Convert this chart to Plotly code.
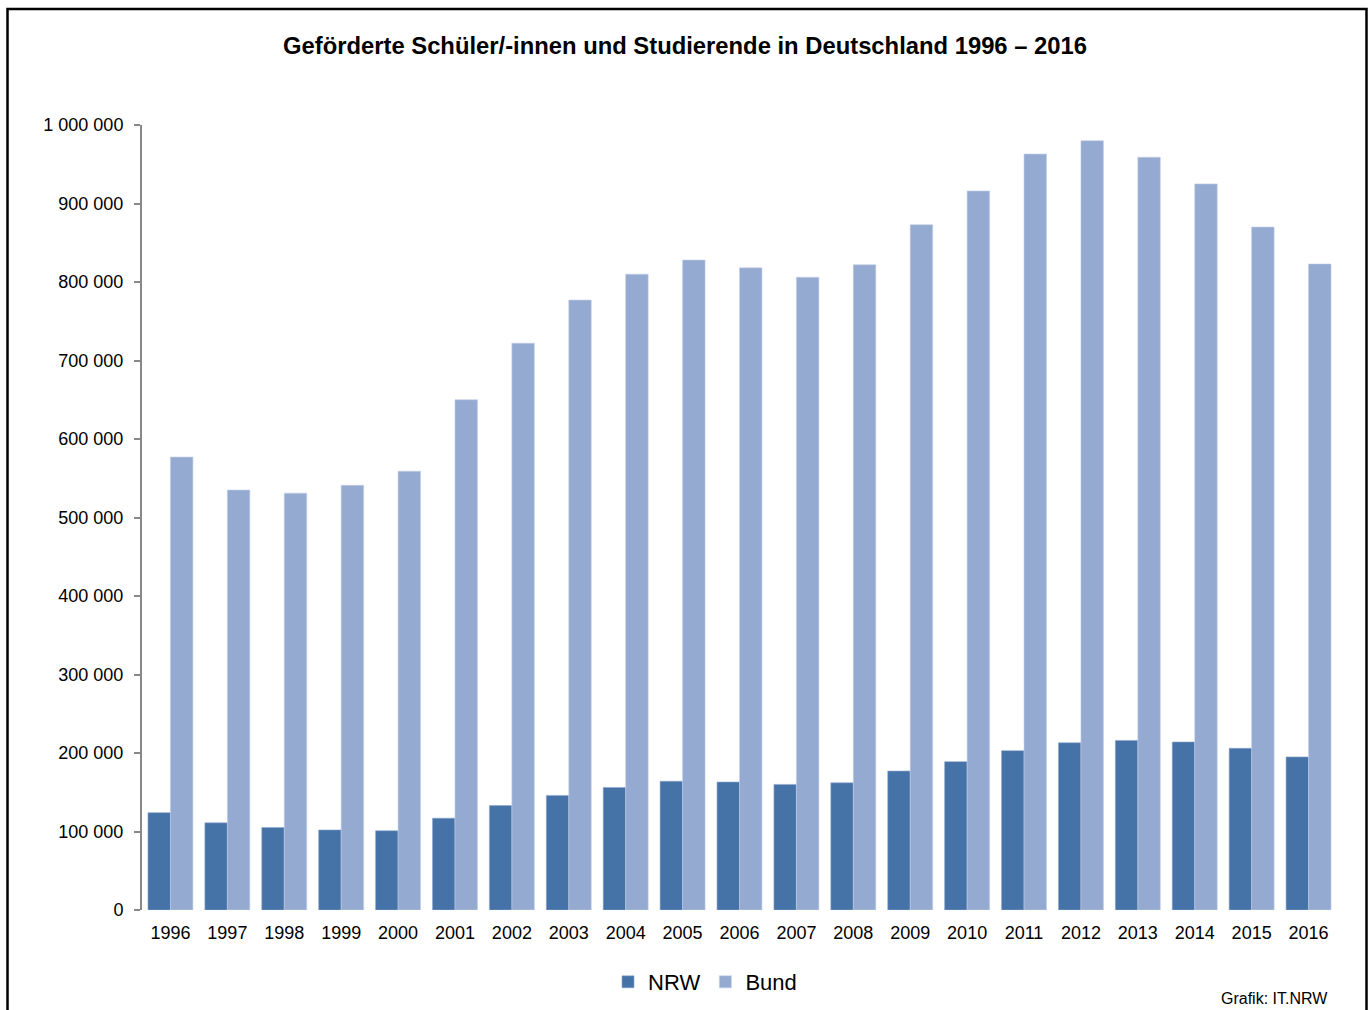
import plotly.graph_objects as go

years = [str(y) for y in range(1996, 2017)]
nrw = [124000, 111000, 105000, 102000, 101000, 117000, 133000, 146000, 156000, 164000,
       163000, 160000, 162000, 177000, 189000, 203000, 213000, 216000, 214000, 206000, 195000]
bund = [577000, 535000, 531000, 541000, 559000, 650000, 722000, 777000, 810000, 828000,
        818000, 806000, 822000, 873000, 916000, 963000, 980000, 959000, 925000, 870000, 823000]
ytick_vals = [0, 100000, 200000, 300000, 400000, 500000, 600000, 700000, 800000, 900000, 1000000]
ytick_text = ["0", "100 000", "200 000", "300 000", "400 000", "500 000", "600 000",
              "700 000", "800 000", "900 000", "1 000 000"]

FONT = "Liberation Sans, Arial, sans-serif"

fig = go.Figure()
fig.add_trace(go.Bar(x=years, y=nrw, name="NRW",
                     marker=dict(color="#4572a7", line=dict(color="#8fa6cc", width=0.6))))
fig.add_trace(go.Bar(x=years, y=bund, name="Bund",
                     marker=dict(color="#94aad1", line=dict(color="#c3cfe6", width=0.6))))

# body margin is removed by post_script, so the figure fills the 1371x1010 page
W, H = 1371, 1010
L, R, T, B = 142, 1337, 125, 910
pw, ph = R - L, B - T

def px(x):
    return (x - L) / pw

def py(y):
    return (B - y) / ph

fig.update_layout(
    width=W, height=H,
    margin=dict(l=L, r=W - R, t=T, b=H - B, autoexpand=False),
    paper_bgcolor="white", plot_bgcolor="white",
    barmode="group", bargap=0.21, bargroupgap=0,
    font=dict(family=FONT, color="black", size=18),
    title=dict(text="<b>Geförderte Schüler/-innen und Studierende in Deutschland 1996 – 2016</b>",
               x=685 / W, xanchor="center", y=1 - 46 / H, yanchor="middle",
               font=dict(size=23.8, family=FONT, color="black")),
    xaxis=dict(showline=False, ticks="", showgrid=False, tickfont=dict(size=18),
               ticklabelstandoff=10),
    yaxis=dict(range=[0, 1000000], tickvals=ytick_vals, ticktext=ytick_text,
               showgrid=False, zeroline=False, showline=True, linecolor="#888888", linewidth=2,
               ticks="outside", ticklen=6, tickcolor="#888888", tickwidth=1.5,
               tickfont=dict(size=18), ticklabelstandoff=7),
    legend=dict(orientation="h", x=px(705), xanchor="center", y=py(982), yanchor="middle",
                font=dict(size=22, family=FONT), itemwidth=30, bgcolor="rgba(0,0,0,0)"),
    shapes=[dict(type="rect", xref="paper", yref="paper",
                 x0=px(7.5), x1=px(1366.5), y0=py(1016), y1=py(9),
                 line=dict(color="black", width=2.5), fillcolor="rgba(0,0,0,0)", layer="below")],
    annotations=[dict(text="Grafik: IT.NRW", xref="paper", yref="paper",
                      x=px(1330), y=py(998), xanchor="right", yanchor="middle",
                      showarrow=False, font=dict(size=16, family=FONT))],
)

fig.write_html("out.html",
               config={"displayModeBar": False},
               post_script="document.body.style.margin='0';document.body.style.overflow='hidden';")
